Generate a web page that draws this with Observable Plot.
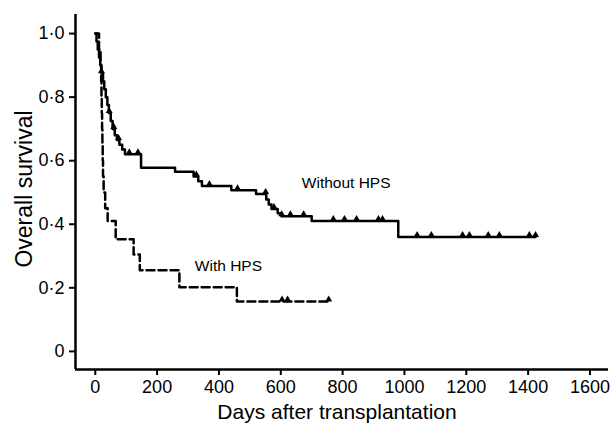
<!DOCTYPE html>
<html>
<head>
<meta charset="utf-8">
<script src="https://cdn.jsdelivr.net/npm/d3@7"></script>
<script src="https://cdn.jsdelivr.net/npm/@observablehq/plot@0.6"></script>
<style>
  html, body { margin: 0; padding: 0; background: #fff; }
</style>
</head>
<body>
<div id="chart"></div>
<script>
const xTicks = [0, 200, 400, 600, 800, 1000, 1200, 1400, 1600];
const yTicks = [0, 0.2, 0.4, 0.6, 0.8, 1.0];
const yTickLabels = ["0", "0·2", "0·4", "0·6", "0·8", "1·0"];
const xLabel = "Days after transplantation";
const yLabel = "Overall survival";

// Without HPS (solid) – Kaplan–Meier steps
const withoutDays = [0, 4, 8, 12, 16, 20, 25, 29, 34, 39, 44, 50, 56, 63, 70, 78, 87, 96, 148, 258, 318, 333, 345, 440, 520, 553, 561, 570, 590, 602, 700, 980, 1424];
const withoutSurv = [1.0, 0.975, 0.95, 0.925, 0.90, 0.875, 0.85, 0.825, 0.80, 0.775, 0.75, 0.725, 0.70, 0.68, 0.665, 0.65, 0.635, 0.62, 0.578, 0.565, 0.55, 0.535, 0.52, 0.507, 0.495, 0.478, 0.462, 0.448, 0.435, 0.425, 0.41, 0.36, 0.36];
const withoutCensorDays = [20, 45, 60, 75, 110, 138, 327, 369, 460, 551, 578, 603, 631, 674, 770, 806, 845, 916, 929, 1041, 1087, 1188, 1210, 1271, 1307, 1404, 1424];

// With HPS (dashed)
const withDays = [0, 12, 17, 19, 20, 21, 22, 23, 24, 25, 27, 32, 40, 66, 124, 144, 272, 458, 755];
const withSurv = [1.0, 0.95, 0.9, 0.85, 0.8, 0.75, 0.7, 0.65, 0.6, 0.55, 0.5, 0.45, 0.41, 0.353, 0.305, 0.255, 0.202, 0.157, 0.157];
const withCensorDays = [604, 622, 755];

const groupLabels = ["Without HPS", "With HPS"];
const labelDays = [668, 322];
const labelSurv = [0.514, 0.252];

function survAt(days, surv, t) {
  const i = d3.bisectRight(days, t) - 1;
  return surv[Math.max(0, i)];
}

const withoutPts = withoutDays.map((d, i) => ({x: d, y: withoutSurv[i]}));
const withPts = withDays.map((d, i) => ({x: d, y: withSurv[i]}));
const withoutCens = withoutCensorDays.map(d => ({x: d, y: survAt(withoutDays, withoutSurv, d)}));
const withCens = withCensorDays.map(d => ({x: d, y: survAt(withDays, withSurv, d)}));
const labels = groupLabels.map((t, i) => ({t, x: labelDays[i], y: labelSurv[i]}));
const yLabMap = new Map(yTicks.map((v, i) => [v, yTickLabels[i]]));

const xDomain = [-64, 1660];
const yDomain = [-0.057, 1.06];
const font = "'Liberation Sans', Arial, Helvetica, sans-serif";

const chart = Plot.plot({
  width: 613,
  height: 423,
  marginLeft: 75,
  marginRight: 5,
  marginTop: 14,
  marginBottom: 54,
  x: {domain: xDomain},
  y: {domain: yDomain},
  style: {fontFamily: font, background: "white", color: "black"},
  marks: [
    Plot.axisX({ticks: xTicks, tickSize: 6, tickPadding: 5, fontSize: 18, strokeWidth: 2, label: null, tickFormat: d => String(d)}),
    Plot.axisY({ticks: yTicks, tickSize: 6, tickPadding: 5, fontSize: 18, strokeWidth: 2, label: null, tickFormat: d => yLabMap.get(d)}),
    Plot.ruleX([xDomain[0]], {stroke: "black", strokeWidth: 2.5}),
    Plot.ruleY([yDomain[0]], {stroke: "black", strokeWidth: 2.5}),
    Plot.line(withoutPts, {x: "x", y: "y", curve: "step-after", stroke: "black", strokeWidth: 2.5}),
    Plot.line(withPts, {x: "x", y: "y", curve: "step-after", stroke: "black", strokeWidth: 2.5, strokeDasharray: "8,4"}),
    Plot.dot(withoutCens, {x: "x", y: "y", symbol: "triangle", r: 2.6, fill: "black", dy: -2}),
    Plot.dot(withCens, {x: "x", y: "y", symbol: "triangle", r: 2.6, fill: "black", dy: -2}),
    Plot.text(labels, {x: "x", y: "y", text: "t", textAnchor: "start", lineAnchor: "bottom", fontSize: 15.5, fill: "black"}),
    Plot.text([xLabel], {frameAnchor: "bottom", textAnchor: "middle", dy: 49, dx: -5, lineAnchor: "bottom", fontSize: 21, fill: "black"}),
    Plot.text([yLabel], {frameAnchor: "left", textAnchor: "middle", rotate: -90, dx: -51, dy: -3, lineAnchor: "middle", fontSize: 23, fill: "black"})
  ]
});
document.getElementById("chart").appendChild(chart);
</script>
</body>
</html>
